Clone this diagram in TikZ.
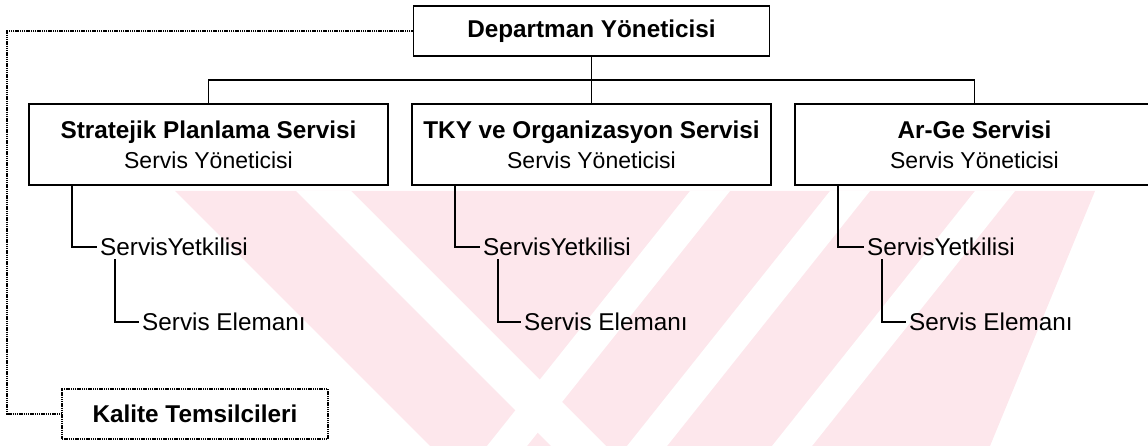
\documentclass[tikz,border=0pt]{standalone}
\usepackage{fontspec}
\setmainfont{Liberation Sans}
\definecolor{wm}{RGB}{253,231,236}
\begin{document}
\begin{tikzpicture}[x=1pt,y=-1pt,
  box/.style={draw, line width=1.9pt, minimum height=81pt, minimum width=359pt,
    inner sep=0pt, align=center, font=\fontsize{23}{30}\selectfont},
  head/.style={draw, line width=1.9pt, minimum height=50pt, inner sep=0pt,
    font=\bfseries\fontsize{24.3}{29}\selectfont},
  item/.style={anchor=west, inner sep=3pt, font=\fontsize{24.3}{29}\selectfont},
  link/.style={line width=1.9pt},
  dots/.style={line width=1.7pt, dash pattern=on 1.4pt off 0.8pt},
]
\useasboundingbox (0,0) rectangle (1148,446);
\clip (0,0) rectangle (1148,446);

% pale background emblem
\begin{scope}
  \clip (0,191) rectangle (1148,446);
  \fill[wm] (175,191) -- (1095,191) -- (990,446) -- (430,446) -- cycle;
  \fill[white] (296,191) -- (351,191) -- (606,446) -- (551,446) -- cycle;
  \fill[white] (690,191) -- (730,191) -- (527,446) -- (487,446) -- cycle;
  \fill[white] (830,191) -- (870,191) -- (667,446) -- (627,446) -- cycle;
  \fill[white] (975,191) -- (1015,191) -- (812,446) -- (772,446) -- cycle;
\end{scope}

% boxes
\node[head, minimum width=356pt] (dep) at (591.5,31) {Departman Yöneticisi};
\node[box] (s1) at (208.5,144.5) {\textbf{\fontsize{24.3}{30}\selectfont Stratejik Planlama Servisi}\\Servis Yöneticisi};
\node[box] (s2) at (591.5,144.5) {\textbf{\fontsize{24.3}{30}\selectfont TKY ve Organizasyon Servisi}\\Servis Yöneticisi};
\node[box] (s3) at (974.5,144.5) {\textbf{\fontsize{24.3}{30}\selectfont Ar-Ge Servisi}\\Servis Yöneticisi};
\node[head, dots, minimum width=266pt] (kal) at (195,414) {Kalite Temsilcileri};

% staff entries
\node[item] (y1) at (97,247) {ServisYetkilisi};
\node[item] (e1) at (139,322) {Servis Elemanı};
\node[item] (y2) at (480,247) {ServisYetkilisi};
\node[item] (e2) at (521,322) {Servis Elemanı};
\node[item] (y3) at (864,247) {ServisYetkilisi};
\node[item] (e3) at (906,322) {Servis Elemanı};

% hierarchy lines
\coordinate (bus) at (0,80);
\draw[link] (dep.south) -- (s2.north);
\draw[link] (s1.north) -- (s1.north |- bus) -- (s3.north |- bus) -- (s3.north);
\foreach \i in {1,2,3}{
  \draw[link] ([xshift=44pt]s\i.south west) |- (y\i.west);
  \draw[link] ([xshift=18pt]y\i.south west) |- (e\i.west);
}

% quality representatives link
\coordinate (lft) at (7,200);
\draw[dots] (dep.west) -| (lft) |- (kal.west);
\end{tikzpicture}
\end{document}
